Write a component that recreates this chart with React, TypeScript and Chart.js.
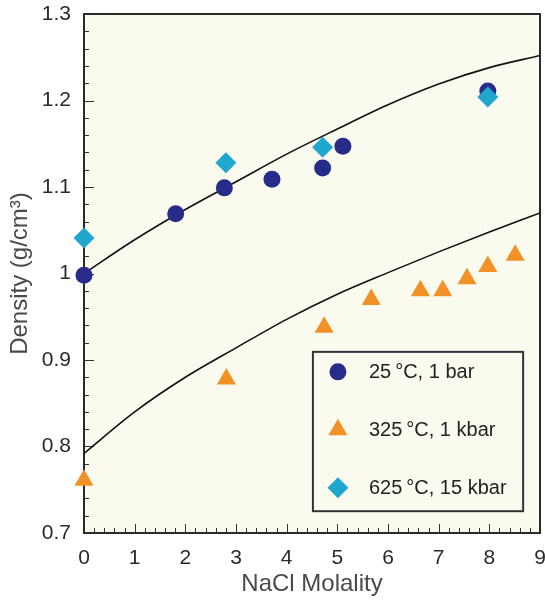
import React, { useEffect, useRef } from "react";
import { Chart, registerables } from "chart.js";
import { drawPoint } from "chart.js/helpers";

Chart.register(...registerables);

// ---- data ----
const circleX = [0, 1.81, 2.77, 3.71, 4.71, 5.11, 7.97];
const circleY = [0.998, 1.069, 1.099, 1.109, 1.122, 1.147, 1.211];

const triangleX = [0, 2.81, 4.74, 5.67, 6.64, 7.08, 7.56, 7.97, 8.51];
const triangleY = [0.761, 0.878, 0.938, 0.97, 0.98, 0.98, 0.994, 1.008, 1.021];

const diamondX = [0, 2.8, 4.71, 7.97];
const diamondY = [1.041, 1.128, 1.146, 1.204];

const curveX = [0, 1, 2, 3, 4, 5, 6, 7, 8, 9];
const upperCurveY = [1.0, 1.039, 1.074, 1.106, 1.138, 1.167, 1.195, 1.219, 1.238, 1.252];
const lowerCurveY = [0.792, 0.84, 0.88, 0.914, 0.947, 0.976, 1.001, 1.025, 1.048, 1.07];

const seriesLabels = ["25\u2009°C, 1 bar", "325\u2009°C, 1 kbar", "625\u2009°C, 15 kbar"];

const xTickValues = [0, 1, 2, 3, 4, 5, 6, 7, 8, 9];
const xTickLabels = ["0", "1", "2", "3", "4", "5", "6", "7", "8", "9"];
const yTickValues = [0.7, 0.8, 0.9, 1.0, 1.1, 1.2, 1.3];
const yTickLabels = ["0.7", "0.8", "0.9", "1", "1.1", "1.2", "1.3"];
const minorDivisions = 5;

const xTitle = "NaCl Molality";
const yTitle = "Density (g/cm³)";

// ---- styles ----
const FONT = "'Liberation Sans', Arial, Helvetica, sans-serif";
const C_CIRCLE = "#262c88";
const C_TRI = "#f29226";
const C_DIAM = "#20a7cf";
const BG = "#fafaef";

const toPts = (xs: number[], ys: number[]) => xs.map((x, i) => ({ x, y: ys[i] }));

const framePlugin = {
  id: "frame",
  beforeDatasetsDraw(chart: any) {
    const { ctx, chartArea: a } = chart;
    ctx.save();
    ctx.fillStyle = BG;
    ctx.fillRect(a.left, a.top, a.right - a.left, a.bottom - a.top);
    ctx.strokeStyle = "#333";
    ctx.lineWidth = 1;
    const xs = chart.scales.x;
    const ys = chart.scales.y;
    const xt = xs.ticks.map((t: any) => t.value);
    const yt = ys.ticks.map((t: any) => t.value);
    ctx.beginPath();
    xt.forEach((v: number, i: number) => {
      const px = Math.round(xs.getPixelForValue(v)) + 0.5;
      ctx.moveTo(px, a.bottom);
      ctx.lineTo(px, a.bottom - 9);
      if (i < xt.length - 1) {
        for (let k = 1; k < minorDivisions; k++) {
          const mv = v + ((xt[i + 1] - v) * k) / minorDivisions;
          const mp = Math.round(xs.getPixelForValue(mv)) + 0.5;
          ctx.moveTo(mp, a.bottom);
          ctx.lineTo(mp, a.bottom - 5);
        }
      }
    });
    yt.forEach((v: number, i: number) => {
      const py = Math.round(ys.getPixelForValue(v)) + 0.5;
      ctx.moveTo(a.left, py);
      ctx.lineTo(a.left + 10, py);
      if (i < yt.length - 1) {
        for (let k = 1; k < minorDivisions; k++) {
          const mv = v + ((yt[i + 1] - v) * k) / minorDivisions;
          const mp = Math.round(ys.getPixelForValue(mv)) + 0.5;
          ctx.moveTo(a.left, mp);
          ctx.lineTo(a.left + 5, mp);
        }
      }
    });
    ctx.stroke();
    ctx.strokeStyle = "#2a2a2a";
    ctx.lineWidth = 2;
    ctx.strokeRect(a.left, a.top, a.right - a.left, a.bottom - a.top);
    ctx.restore();
  },
  afterDatasetsDraw(chart: any) {
    const { ctx, chartArea: a } = chart;
    const w = a.right - a.left;
    const h = a.bottom - a.top;
    const bx = a.left + 0.502 * w;
    const by = a.top + 0.651 * h;
    const bw = 0.461 * w;
    const bh = 0.307 * h;
    ctx.save();
    ctx.fillStyle = BG;
    ctx.fillRect(bx, by, bw, bh);
    ctx.strokeStyle = "#333";
    ctx.lineWidth = 2;
    ctx.strokeRect(bx, by, bw, bh);
    const items = chart.data.datasets.filter((d: any) => d.legendItem);
    items.forEach((d: any, i: number) => {
      const cy = by + 20 + i * 58;
      ctx.fillStyle = d.pointBackgroundColor;
      drawPoint(
        ctx,
        { pointStyle: d.pointStyle, rotation: 0, radius: d.pointRadius, borderWidth: 0 } as any,
        bx + 25,
        cy
      );
      ctx.fillStyle = "#222";
      ctx.font = `20px ${FONT}`;
      ctx.textBaseline = "middle";
      ctx.textAlign = "left";
      ctx.fillText(d.label, bx + 56, cy + 1);
    });
    ctx.restore();
  },
};

export default function App() {
  const ref = useRef<HTMLCanvasElement | null>(null);

  useEffect(() => {
    document.body.style.margin = "0";
    const canvas = ref.current;
    if (!canvas) return;
    const chart = new Chart(canvas, {
      type: "scatter",
      data: {
        datasets: [
          {
            label: seriesLabels[0],
            legendItem: true,
            data: toPts(circleX, circleY),
            pointStyle: "circle",
            pointRadius: 8.5,
            pointBackgroundColor: C_CIRCLE,
            pointBorderWidth: 0,
            showLine: false,
            clip: false,
            order: 1,
          } as any,
          {
            label: seriesLabels[1],
            legendItem: true,
            data: toPts(triangleX, triangleY),
            pointStyle: "triangle",
            pointRadius: 11,
            pointBackgroundColor: C_TRI,
            pointBorderWidth: 0,
            showLine: false,
            clip: false,
            order: 2,
          } as any,
          {
            label: seriesLabels[2],
            legendItem: true,
            data: toPts(diamondX, diamondY),
            pointStyle: "rectRot",
            pointRadius: 10.5,
            pointBackgroundColor: C_DIAM,
            pointBorderWidth: 0,
            showLine: false,
            clip: false,
            order: 0,
          } as any,
          {
            label: "upper",
            data: toPts(curveX, upperCurveY),
            showLine: true,
            pointRadius: 0,
            borderColor: "#111",
            borderWidth: 1.6,
            cubicInterpolationMode: "monotone",
            order: 3,
          } as any,
          {
            label: "lower",
            data: toPts(curveX, lowerCurveY),
            showLine: true,
            pointRadius: 0,
            borderColor: "#111",
            borderWidth: 1.6,
            cubicInterpolationMode: "monotone",
            order: 4,
          } as any,
        ],
      },
      options: {
        animation: false,
        responsive: false,
        devicePixelRatio: 1,
        layout: { autoPadding: false, padding: { top: 14, right: 5, left: 0, bottom: 0 } },
        plugins: {
          legend: { display: false },
          tooltip: { enabled: false },
        },
        scales: {
          x: {
            type: "linear",
            min: 0,
            max: 9,
            afterBuildTicks: (s: any) => {
              s.ticks = xTickValues.map((v) => ({ value: v }));
            },
            afterFit: (s: any) => {
              s.height = 67;
              s.paddingLeft = 0;
              s.paddingRight = 0;
            },
            ticks: {
              padding: 13,
              color: "#2a2a2a",
              font: { family: FONT, size: 21 },
              maxRotation: 0,
              callback: (v: any) => xTickLabels[xTickValues.indexOf(Number(v))] ?? "",
            },
            grid: { display: false, drawTicks: false },
            border: { display: false },
            title: {
              display: true,
              text: xTitle,
              color: "#4a4a4a",
              font: { family: FONT, size: 24 },
              padding: { top: 0, bottom: 1 },
            },
          },
          y: {
            type: "linear",
            min: 0.7,
            max: 1.3,
            afterBuildTicks: (s: any) => {
              s.ticks = yTickValues.map((v) => ({ value: v }));
            },
            afterFit: (s: any) => {
              s.width = 84;
              s.paddingTop = 0;
              s.paddingBottom = 0;
            },
            ticks: {
              padding: 13,
              color: "#2a2a2a",
              font: { family: FONT, size: 21 },
              callback: (v: any) => {
                const i = yTickValues.findIndex((t) => Math.abs(t - Number(v)) < 1e-6);
                return i >= 0 ? yTickLabels[i] : "";
              },
            },
            grid: { display: false, drawTicks: false },
            border: { display: false },
            title: {
              display: true,
              text: yTitle,
              color: "#4a4a4a",
              font: { family: FONT, size: 24 },
              padding: { top: 6, bottom: 0 },
            },
          },
        },
      } as any,
      plugins: [framePlugin],
    });
    return () => chart.destroy();
  }, []);

  return (
    <canvas
      ref={ref}
      width={545}
      height={600}
      style={{ position: "absolute", left: 0, top: 0, width: 545, height: 600, display: "block" }}
    />
  );
}
